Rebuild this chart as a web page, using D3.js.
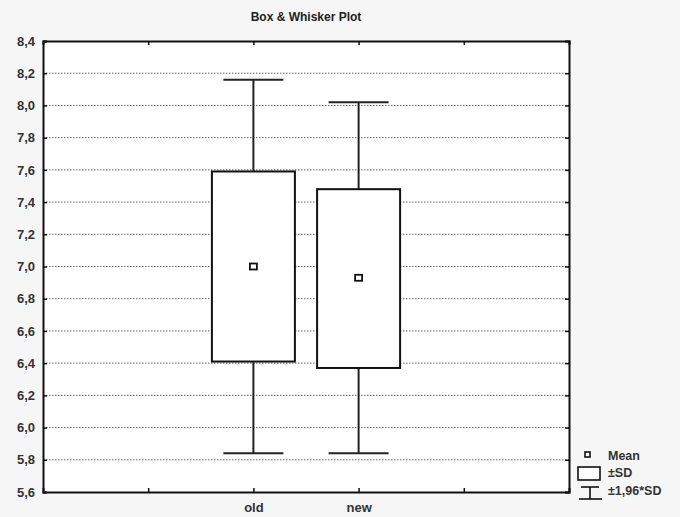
<!DOCTYPE html>
<html>
<head>
<meta charset="utf-8">
<title>Box & Whisker Plot</title>
<style>
  body { margin: 0; background: #f6f6f6; }
  svg { display: block; font-family: "Liberation Sans", Arial, sans-serif; }
  .grid line { stroke: #666; stroke-width: 1px; stroke-dasharray: 1.5 1.5; }
  .tick-label { font-size: 13px; font-weight: bold; fill: #333; }
  .legend text { font-size: 12.5px; font-weight: bold; fill: #333; }
</style>
</head>
<body>
<div id="chart"></div>
<script src="https://d3js.org/d3.v7.min.js"></script>
<script>
// x slots: two empty ones around the two groups
var slots      = ["a", "old", "new", "b"];
var categories = ["old", "new"];
var means      = [7.00, 6.93];
var boxLow     = [6.41, 6.37];   // mean - SD
var boxHigh    = [7.59, 7.48];   // mean + SD
var whiskLow   = [5.84, 5.84];   // mean - 1.96*SD
var whiskHigh  = [8.16, 8.02];   // mean + 1.96*SD
var yTicks     = [5.6, 5.8, 6.0, 6.2, 6.4, 6.6, 6.8, 7.0, 7.2, 7.4, 7.6, 7.8, 8.0, 8.2, 8.4];

var width = 680, height = 517;
var margin = {top: 41, right: 111, bottom: 25, left: 43};
var fmt = function(v) { return d3.format(".1f")(v).replace(".", ","); };

var svg = d3.select("#chart").append("svg")
    .attr("width", width)
    .attr("height", height);

var x = d3.scalePoint()
    .domain(slots)
    .range([margin.left, width - margin.right])
    .padding(1);

var y = d3.scaleLinear()
    .domain([5.6, 8.4])
    .range([height - margin.bottom, margin.top]);

// plot background
svg.append("rect")
    .attr("x", margin.left).attr("y", margin.top)
    .attr("width", width - margin.right - margin.left)
    .attr("height", height - margin.bottom - margin.top)
    .attr("fill", "#fff");

// dotted grid
svg.append("g").attr("class", "grid")
  .selectAll("line")
  .data(yTicks.filter(function(d){ return d > 5.6 && d < 8.4; }))
  .enter().append("line")
    .attr("x1", margin.left).attr("x2", width - margin.right)
    .attr("y1", function(d){ return y(d); })
    .attr("y2", function(d){ return y(d); });

// axes, ticks pointing inwards
var axisLeft = d3.axisLeft(y).tickValues(yTicks).tickSize(-4).tickFormat(fmt).tickPadding(8);
var gl = svg.append("g")
    .attr("transform", "translate(" + margin.left + ",0)")
    .call(axisLeft);
gl.selectAll("text").attr("class", "tick-label");

var gr = svg.append("g")
    .attr("transform", "translate(" + (width - margin.right) + ",0)")
    .call(d3.axisRight(y).tickValues(yTicks).tickSize(-4).tickFormat(""));

var gb = svg.append("g")
    .attr("transform", "translate(0," + (height - margin.bottom) + ")")
    .call(d3.axisBottom(x).tickSize(-4).tickPadding(10)
          .tickFormat(function(d){ return categories.indexOf(d) >= 0 ? d : ""; }));
gb.selectAll("text").attr("class", "tick-label").attr("dy", "0.8em");

var gt = svg.append("g")
    .attr("transform", "translate(0," + margin.top + ")")
    .call(d3.axisTop(x).tickSize(-4).tickFormat(""));

[gl, gr, gb, gt].forEach(function(g){
    g.select(".domain").attr("stroke", "#111").attr("stroke-width", 2);
    g.selectAll(".tick line").attr("stroke", "#111").attr("stroke-width", 1.5);
});

// boxes and whiskers
var boxW = 83, capW = 60;
var groups = svg.selectAll(".grp")
    .data(categories)
    .enter().append("g").attr("class", "grp");

groups.append("line")
    .attr("x1", function(d){ return x(d); }).attr("x2", function(d){ return x(d); })
    .attr("y1", function(d, i){ return y(whiskHigh[i]); })
    .attr("y2", function(d, i){ return y(boxHigh[i]); })
    .attr("stroke", "#222").attr("stroke-width", 2);
groups.append("line")
    .attr("x1", function(d){ return x(d); }).attr("x2", function(d){ return x(d); })
    .attr("y1", function(d, i){ return y(boxLow[i]); })
    .attr("y2", function(d, i){ return y(whiskLow[i]); })
    .attr("stroke", "#222").attr("stroke-width", 2);
groups.append("line")
    .attr("x1", function(d){ return x(d) - capW / 2; }).attr("x2", function(d){ return x(d) + capW / 2; })
    .attr("y1", function(d, i){ return y(whiskHigh[i]); })
    .attr("y2", function(d, i){ return y(whiskHigh[i]); })
    .attr("stroke", "#222").attr("stroke-width", 2);
groups.append("line")
    .attr("x1", function(d){ return x(d) - capW / 2; }).attr("x2", function(d){ return x(d) + capW / 2; })
    .attr("y1", function(d, i){ return y(whiskLow[i]); })
    .attr("y2", function(d, i){ return y(whiskLow[i]); })
    .attr("stroke", "#222").attr("stroke-width", 2);
groups.append("rect")
    .attr("x", function(d){ return x(d) - boxW / 2; })
    .attr("width", boxW)
    .attr("y", function(d, i){ return y(boxHigh[i]); })
    .attr("height", function(d, i){ return y(boxLow[i]) - y(boxHigh[i]); })
    .attr("fill", "#fff").attr("stroke", "#111").attr("stroke-width", 2);
groups.append("rect")
    .attr("x", function(d){ return x(d) - 3.5; })
    .attr("y", function(d, i){ return y(means[i]) - 3; })
    .attr("width", 7).attr("height", 6)
    .attr("fill", "#fff").attr("stroke", "#111").attr("stroke-width", 1.8);

// title
svg.append("text")
    .attr("x", 306).attr("y", 21)
    .attr("text-anchor", "middle")
    .style("font-size", "12px").style("font-weight", "bold").style("fill", "#222")
    .text("Box & Whisker Plot");

// legend
var lg = svg.append("g").attr("class", "legend");
lg.append("rect").attr("x", 585).attr("y", 452).attr("width", 5).attr("height", 5)
    .attr("fill", "#fff").attr("stroke", "#111").attr("stroke-width", 1.6);
lg.append("text").attr("x", 608).attr("y", 460).text("Mean");
lg.append("rect").attr("x", 578).attr("y", 467).attr("width", 22).attr("height", 13)
    .attr("fill", "#fff").attr("stroke", "#111").attr("stroke-width", 1.6);
lg.append("text").attr("x", 608).attr("y", 477).text("±SD");
lg.append("line").attr("x1", 581).attr("x2", 599).attr("y1", 487).attr("y2", 487)
    .attr("stroke", "#111").attr("stroke-width", 1.6);
lg.append("line").attr("x1", 590).attr("x2", 590).attr("y1", 487).attr("y2", 499)
    .attr("stroke", "#111").attr("stroke-width", 1.6);
lg.append("line").attr("x1", 579).attr("x2", 602).attr("y1", 499).attr("y2", 499)
    .attr("stroke", "#111").attr("stroke-width", 1.6);
lg.append("text").attr("x", 608).attr("y", 495).text("±1,96*SD");
</script>
</body>
</html>
